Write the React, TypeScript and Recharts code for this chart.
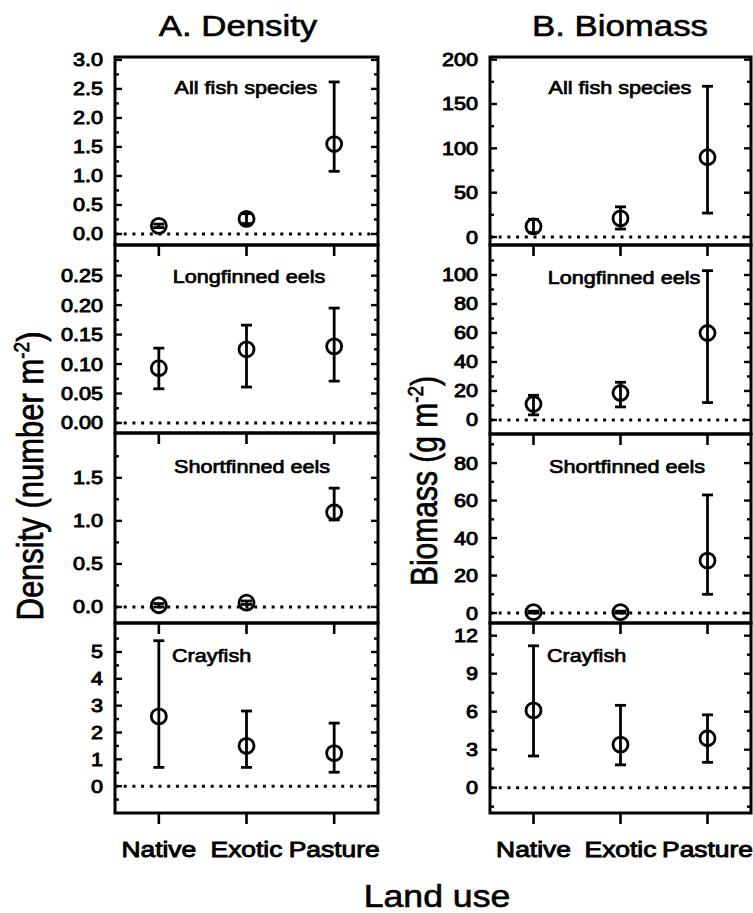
import React from "react"
import {
    ScatterChart,
    Scatter,
    XAxis,
    YAxis,
    ErrorBar,
    ReferenceLine,
    ReferenceArea,
} from "recharts"

const landUse = ["Native", "Exotic", "Pasture"]

// A. Density (number m-2): mean, lower and upper end of the error bar
const densAllMean = [0.14, 0.26, 1.55]
const densAllLow = [0.11, 0.18, 1.08]
const densAllHigh = [0.17, 0.35, 2.62]

const densLongMean = [0.093, 0.125, 0.13]
const densLongLow = [0.058, 0.061, 0.071]
const densLongHigh = [0.127, 0.166, 0.195]

const densShortMean = [0.02, 0.05, 1.1]
const densShortLow = [0.0, 0.03, 1.01]
const densShortHigh = [0.04, 0.07, 1.38]

const densCrayMean = [2.6, 1.5, 1.23]
const densCrayLow = [0.7, 0.7, 0.52]
const densCrayHigh = [5.42, 2.8, 2.35]

// B. Biomass (g m-2)
const bioAllMean = [12, 21, 90]
const bioAllLow = [5, 9, 27]
const bioAllHigh = [20, 34, 170]

const bioLongMean = [11, 18.6, 60]
const bioLongLow = [3.5, 9, 12]
const bioLongHigh = [17, 26, 103]

const bioShortMean = [0.5, 0.5, 28]
const bioShortLow = [0, 0, 10]
const bioShortHigh = [1, 1, 63]

const bioCrayMean = [6.1, 3.4, 3.9]
const bioCrayLow = [2.5, 1.8, 2.0]
const bioCrayHigh = [11.2, 6.5, 5.75]

const FONT = "'Liberation Sans', Arial, Helvetica, sans-serif"
const SX = 1.2

type Row = { pos: number; name: string; mean: number; err: [number, number] }

function rows(mean: number[], low: number[], high: number[]): Row[] {
    return landUse.map((name, i) => ({
        pos: i,
        name,
        mean: mean[i],
        err: [mean[i] - low[i], high[i] - mean[i]],
    }))
}

type PanelProps = {
    left: number
    plotLeft: number
    plotRight: number
    plotTop: number
    plotBottom: number
    domain: [number, number]
    major: number[]
    minor: number[]
    digits: number
    data: Row[]
    showX?: boolean
}

function Panel(p: PanelProps) {
    const padT = 14
    const padB = p.showX ? 60 : 18
    const innerRight = p.plotRight - p.left
    const width = innerRight + 8
    const height = p.plotBottom - p.plotTop + padT + padB
    const pw = p.plotRight - p.plotLeft

    const yTick = (props: any) => {
        const { x, y, payload } = props
        const v = payload.value
        const isMajor = p.major.some((m) => Math.abs(m - v) < 1e-9)
        const len = isMajor ? 7 : 4
        return (
            <g>
                <line x1={x} x2={x + len} y1={y} y2={y} stroke="#000" strokeWidth={2.4} />
                <line x1={x + pw - len} x2={x + pw} y1={y} y2={y} stroke="#000" strokeWidth={2.4} />
                {isMajor && (
                    <text
                        transform={`translate(${x - 12},${y}) scale(${SX},1)`}
                        textAnchor="end"
                        dy="0.36em"
                        fontSize={18}
                        fontFamily={FONT}
                        fill="#000"
                        stroke="#000"
                        strokeWidth={0.9}
                    >
                        {v.toFixed(p.digits)}
                    </text>
                )}
            </g>
        )
    }

    const xTick = (props: any) => {
        const { x, y, payload } = props
        return (
            <g>
                <line x1={x} x2={x} y1={y} y2={y + 11} stroke="#000" strokeWidth={2.6} />
                {p.showX && (
                    <text
                        transform={`translate(${x},${y + 44}) scale(${SX},1)`}
                        textAnchor="middle"
                        fontSize={22}
                        fontFamily={FONT}
                        fill="#000"
                        stroke="#000"
                        strokeWidth={0.9}
                    >
                        {landUse[payload.value]}
                    </text>
                )}
            </g>
        )
    }

    const ticks = [...p.major, ...p.minor].sort((a, b) => a - b)

    return (
        <div style={{ position: "absolute", left: p.left, top: p.plotTop - padT }}>
            <ScatterChart
                width={width}
                height={height}
                margin={{ top: padT, right: width - innerRight, bottom: 2, left: 0 }}
            >
                <XAxis
                    type="number"
                    dataKey="pos"
                    domain={[-0.5, 2.5]}
                    ticks={[0, 1, 2]}
                    interval={0}
                    allowDataOverflow
                    height={padB - 2}
                    tickSize={0}
                    tickMargin={0}
                    axisLine={false}
                    tickLine={false}
                    tick={xTick}
                />
                <YAxis
                    type="number"
                    dataKey="mean"
                    domain={p.domain}
                    ticks={ticks}
                    interval={0}
                    allowDataOverflow
                    width={p.plotLeft - p.left}
                    tickSize={0}
                    tickMargin={0}
                    axisLine={false}
                    tickLine={false}
                    tick={yTick}
                />
                <ReferenceLine
                    y={0}
                    stroke="#000"
                    strokeWidth={3}
                    strokeDasharray="3 5.7"
                />
                <ReferenceArea
                    x1={-0.5}
                    x2={2.5}
                    y1={p.domain[0]}
                    y2={p.domain[1]}
                    fill="none"
                    fillOpacity={0}
                    stroke="#000"
                    strokeWidth={3}
                    ifOverflow="visible"
                />
                <Scatter
                    data={p.data}
                    isAnimationActive={false}
                    shape={(s: any) => (
                        <circle cx={s.cx} cy={s.cy} r={7.5} fill="none" stroke="#000" strokeWidth={2.8} />
                    )}
                >
                    <ErrorBar
                        dataKey="err"
                        direction="y"
                        width={5.5}
                        stroke="#000"
                        strokeWidth={2.8}
                        isAnimationActive={false}
                    />
                </Scatter>
            </ScatterChart>
        </div>
    )
}

const densMinor1 = [0.25, 0.75, 1.25, 1.75, 2.25, 2.75]
const densMinor2 = [0.025, 0.075, 0.125, 0.175, 0.225, 0.275]
const densMinor3 = [0.25, 0.75, 1.25, 1.75]
const densMinor4 = [-0.5, 0.5, 1.5, 2.5, 3.5, 4.5, 5.5]
const bioMinor1 = [25, 75, 125, 175]
const bioMinor2 = [10, 30, 50, 70, 90, 110]
const bioMinor3 = [10, 30, 50, 70, 90]
const bioMinor4 = [-1.5, 1.5, 4.5, 7.5, 10.5]

function Label({ x, y, text, size = 18, anchor = "middle", sw = 0.7 }: any) {
    return (
        <text
            transform={`translate(${x},${y}) scale(${SX},1)`}
            textAnchor={anchor}
            fontSize={size}
            fontFamily={FONT}
            fill="#000"
            stroke="#000"
            strokeWidth={sw}
        >
            {text}
        </text>
    )
}

export default function App() {
    const L = { left: 0, plotLeft: 115, plotRight: 378 }
    const R = { left: 380, plotLeft: 490, plotRight: 751 }
    return (
        <div
            style={{
                position: "absolute",
                left: 0,
                top: 0,
                width: 753,
                height: 913,
                background: "#fff",
                overflow: "hidden",
            }}
        >
            <Panel {...L} plotTop={57} plotBottom={245} domain={[-0.19, 3.05]}
                major={[0, 0.5, 1, 1.5, 2, 2.5, 3]} minor={densMinor1} digits={1}
                data={rows(densAllMean, densAllLow, densAllHigh)} />
            <Panel {...L} plotTop={245} plotBottom={433} domain={[-0.017, 0.302]}
                major={[0, 0.05, 0.1, 0.15, 0.2, 0.25]} minor={densMinor2} digits={2}
                data={rows(densLongMean, densLongLow, densLongHigh)} />
            <Panel {...L} plotTop={433} plotBottom={623} domain={[-0.186, 2.02]}
                major={[0, 0.5, 1, 1.5]} minor={densMinor3} digits={1}
                data={rows(densShortMean, densShortLow, densShortHigh)} />
            <Panel {...L} plotTop={623} plotBottom={813} domain={[-1.0, 6.08]}
                major={[0, 1, 2, 3, 4, 5]} minor={densMinor4} digits={0}
                data={rows(densCrayMean, densCrayLow, densCrayHigh)} showX />

            <Panel {...R} plotTop={57} plotBottom={245} domain={[-9, 203]}
                major={[0, 50, 100, 150, 200]} minor={bioMinor1} digits={0}
                data={rows(bioAllMean, bioAllLow, bioAllHigh)} />
            <Panel {...R} plotTop={245} plotBottom={434} domain={[-9.7, 120.7]}
                major={[0, 20, 40, 60, 80, 100]} minor={bioMinor2} digits={0}
                data={rows(bioLongMean, bioLongLow, bioLongHigh)} />
            <Panel {...R} plotTop={434} plotBottom={623} domain={[-5.3, 95.5]}
                major={[0, 20, 40, 60, 80]} minor={bioMinor3} digits={0}
                data={rows(bioShortMean, bioShortLow, bioShortHigh)} />
            <Panel {...R} plotTop={623} plotBottom={813} domain={[-2.0, 13.0]}
                major={[0, 3, 6, 9, 12]} minor={bioMinor4} digits={0}
                data={rows(bioCrayMean, bioCrayLow, bioCrayHigh)} showX />

            <svg
                width={753}
                height={913}
                style={{ position: "absolute", left: 0, top: 0, pointerEvents: "none" }}
            >
                <Label x={238} y={36} text="A. Density" size={29} sw={0.6} />
                <Label x={620} y={36} text="B. Biomass" size={29} sw={0.6} />

                <Label x={246} y={94} text="All fish species" />
                <Label x={249} y={283} text="Longfinned eels" />
                <Label x={252} y={473} text="Shortfinned eels" />
                <Label x={172} y={662} text="Crayfish" anchor="start" />

                <Label x={620} y={94} text="All fish species" />
                <Label x={624} y={284} text="Longfinned eels" />
                <Label x={627} y={473} text="Shortfinned eels" />
                <Label x={547} y={662} text="Crayfish" anchor="start" />

                <text
                    transform={`translate(43,476) rotate(-90) scale(1,${SX})`}
                    textAnchor="middle"
                    fontSize={31}
                    fontFamily={FONT}
                    fill="#000"
                    stroke="#000"
                    strokeWidth={0.6}
                >
                    Density (number m<tspan dy={-12} fontSize={19}>-2</tspan>
                    <tspan dy={12}>)</tspan>
                </text>
                <text
                    transform={`translate(437,481) rotate(-90) scale(1,${SX})`}
                    textAnchor="middle"
                    fontSize={30}
                    fontFamily={FONT}
                    fill="#000"
                    stroke="#000"
                    strokeWidth={0.6}
                >
                    Biomass (g m<tspan dy={-12} fontSize={19}>-2</tspan>
                    <tspan dy={12}>)</tspan>
                </text>

                <text
                    transform={`translate(437,907) scale(1.15,1)`}
                    textAnchor="middle"
                    fontSize={31}
                    fontFamily={FONT}
                    fill="#000"
                    stroke="#000"
                    strokeWidth={0.6}
                >
                    Land use
                </text>
            </svg>
        </div>
    )
}
